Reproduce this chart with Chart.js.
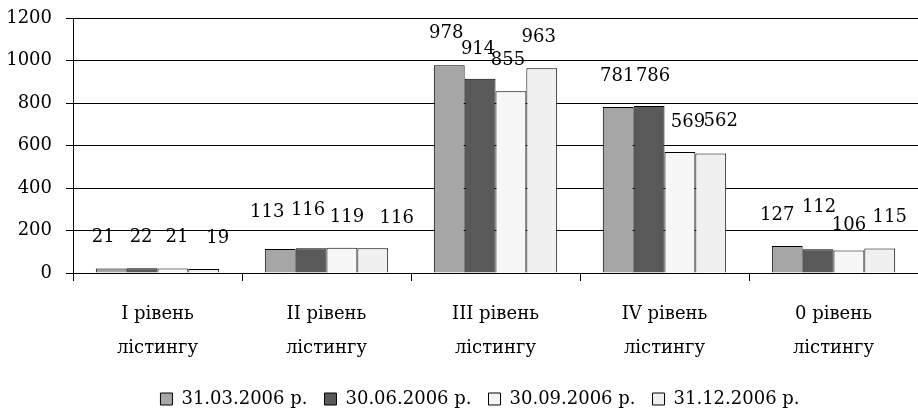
<!DOCTYPE html>
<html><head><meta charset="utf-8">
<script src="https://cdn.jsdelivr.net/npm/chart.js@4/dist/chart.umd.min.js"></script>
<style>html,body{margin:0;padding:0;background:#fff;overflow:hidden}#wrap{width:918px;height:411px;position:relative}</style>
</head><body><div id="wrap"><canvas id="c" width="918" height="411"></canvas></div>
<script>
// ---- data ----
const categories = [["I рівень","лістингу"],["II рівень","лістингу"],["III рівень","лістингу"],["IV рівень","лістингу"],["0 рівень","лістингу"]];
const seriesNames = ["31.03.2006 р.","30.06.2006 р.","30.09.2006 р.","31.12.2006 р."];
const s1 = [21,113,978,781,127];
const s2 = [22,116,914,786,112];
const s3 = [21,119,855,569,106];
const s4 = [19,116,963,562,115];
const yTickValues = [0,200,400,600,800,1000,1200];

// ---- styles ----
const fills = ["#a6a6a6","#595959","#f7f7f7","#f0f0f0"];
// label offsets [dx,dy] relative to top-centre of each bar (series x category)
const labelOffsets = [
  [[-8,-31],[-13,-37],[-3,-32],[-1,-31],[-10,-31]],
  [[-1,-31],[-3,-38],[-2,-29],[4,-30],[1,-42]],
  [[4,-31],[5,-30],[-3,-31],[8,-30],[0,-25]],
  [[14,-31],[24,-30],[-3,-31],[10,-32],[10,-31]]
];
const FONT = "'DejaVu Serif', 'Liberation Serif', serif";
const FS = 18;
const LEGEND_SHIFT = 21;

const seriesData = [s1,s2,s3,s4];
const datasets = seriesData.map((d,i)=>({
  label: seriesNames[i],
  data: d,
  backgroundColor: fills[i],
  borderColor: "#000",
  borderWidth: 1,
  borderSkipped: "bottom",
  barPercentage: 1.0,
  categoryPercentage: 0.73
}));

const labelPlugin = {
  id: 'vlabels',
  afterLayout(chart){
    if (chart.legend) { chart.legend.left += LEGEND_SHIFT; chart.legend.right += LEGEND_SHIFT; }
  },
  afterDatasetsDraw(chart){
    const ctx = chart.ctx;
    ctx.save();
    ctx.font = FS + "px " + FONT;
    ctx.fillStyle = "#000";
    ctx.textAlign = "center";
    ctx.textBaseline = "middle";
    chart.data.datasets.forEach((ds,si)=>{
      const meta = chart.getDatasetMeta(si);
      meta.data.forEach((el,ci)=>{
        const off = labelOffsets[si][ci];
        ctx.fillText(String(ds.data[ci]), el.x + off[0], el.y + off[1]);
      });
    });
    ctx.restore();
  }
};

new Chart(document.getElementById('c'), {
  type: 'bar',
  data: { labels: categories, datasets },
  options: {
    responsive: false,
    animation: false,
    layout: { padding: { top: 18, right: 0, left: 0, bottom: -7 } },
    plugins: {
      tooltip: { enabled: false },
      legend: {
        position: 'bottom',
        labels: {
          font: { family: FONT, size: FS },
          color: "#000",
          boxWidth: 12,
          boxHeight: 12,
          padding: 17,
          generateLabels(chart){
            return chart.data.datasets.map((ds,i)=>({
              text: ds.label, fillStyle: fills[i], strokeStyle: "#000", lineWidth: 1, datasetIndex: i, hidden: false, fontColor: "#000"
            }));
          }
        }
      }
    },
    scales: {
      x: {
        afterFit(scale){ scale.height = 100; },
        grid: { display: true, drawOnChartArea: false, drawTicks: true, tickLength: 8, color: "#000", offset: true },
        border: { display: true, color: "#000", width: 1 },
        ticks: { font: { family: FONT, size: FS, lineHeight: 1.9 }, color: "#000", padding: 16, maxRotation: 0, autoSkip: false }
      },
      y: {
        min: 0, max: 1200,
        afterBuildTicks(scale){ scale.ticks = yTickValues.map(v=>({value:v})); },
        afterFit(scale){ scale.width = 73; scale.paddingTop = 0; },
        grid: { color: "#000", lineWidth: 1, tickLength: 7 },
        border: { display: true, color: "#000", width: 1 },
        ticks: { font: { family: FONT, size: FS }, color: "#000", padding: 14, callback: v => String(v) }
      }
    }
  },
  plugins: [labelPlugin]
});
</script>
</body></html>
